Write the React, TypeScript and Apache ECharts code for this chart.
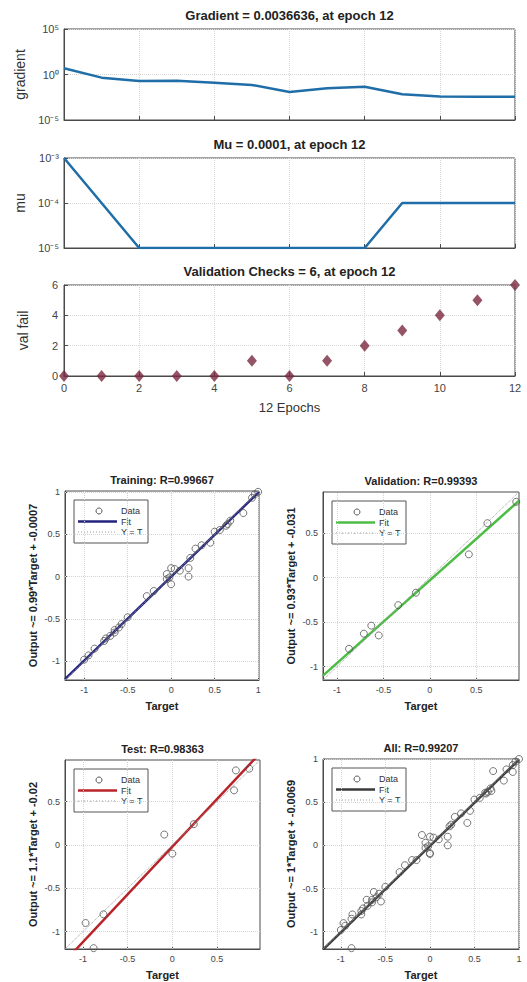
import React, { useEffect, useRef } from "react";
import * as echarts from "echarts";

// ---------- data ----------
const epochs = [0, 1, 2, 3, 4, 5, 6, 7, 8, 9, 10, 11, 12];
const gradientValues = [4.8, 0.45, 0.19, 0.21, 0.126, 0.071, 0.012, 0.03, 0.046, 0.0066, 0.0038, 0.0036, 0.0036636];
const muValues = [1e-3, 1e-4, 1e-5, 1e-5, 1e-5, 1e-5, 1e-5, 1e-5, 1e-5, 1e-4, 1e-4, 1e-4, 1e-4];
const valFailValues = [0, 0, 0, 0, 0, 1, 0, 1, 2, 3, 4, 5, 6];

const trainingPoints = [
  [1.0, 1.0], [0.96, 0.97], [0.93, 0.93], [0.83, 0.75], [0.68, 0.66], [0.65, 0.62], [0.63, 0.6],
  [0.56, 0.55], [0.5, 0.53], [0.45, 0.4], [0.35, 0.37], [0.28, 0.33], [0.22, 0.22], [0.2, 0.1],
  [0.2, 0.0], [0.1, 0.07], [0.04, 0.09], [0.0, 0.1], [0.0, -0.09], [-0.05, 0.03], [-0.05, -0.03],
  [-0.02, -0.01], [-0.2, -0.17], [-0.28, -0.23], [-0.5, -0.48], [-0.57, -0.56], [-0.6, -0.6],
  [-0.65, -0.63], [-0.7, -0.7], [-0.75, -0.73], [-0.77, -0.76], [-0.88, -0.85], [-0.95, -0.93],
  [-1.0, -0.98], [-0.65, -0.66],
];
const validationPoints = [
  [0.93, 0.85], [0.62, 0.61], [0.42, 0.26], [-0.15, -0.17], [-0.34, -0.31], [-0.63, -0.54],
  [-0.55, -0.65], [-0.71, -0.63], [-0.87, -0.8],
];
const testPoints = [
  [0.86, 0.88], [0.71, 0.86], [0.69, 0.63], [0.24, 0.24], [-0.09, 0.12], [0.0, -0.1],
  [-0.77, -0.8], [-0.97, -0.9], [-0.88, -1.19],
];
const allPoints = [...trainingPoints, ...validationPoints, ...testPoints];

const regressionTitles = ["Training: R=0.99667", "Validation: R=0.99393", "Test: R=0.98363", "All: R=0.99207"];
const regressionYLabels = [
  "Output ~= 0.99*Target + -0.0007",
  "Output ~= 0.93*Target + -0.031",
  "Output ~= 1.1*Target + -0.02",
  "Output ~= 1*Target + -0.0069",
];
const fitSlopes = [0.99, 0.93, 1.1, 1.0];
const fitIntercepts = [-0.0007, -0.031, -0.02, -0.0069];
const regressionTickValues = [-1, -0.5, 0, 0.5, 1];
const legendLabels = ["Data", "Fit", "Y = T"];

// ---------- layout / style ----------
const FONT = "'Liberation Sans', Arial, sans-serif";
const regPanels = [
  { left: 65, top: 491, width: 194, height: 189, min: -1.22, max: 1.01, color: "#23237f", points: trainingPoints },
  { left: 323, top: 492, width: 196, height: 188, min: -1.15, max: 0.96, color: "#4cbc44", points: validationPoints },
  { left: 65, top: 760, width: 195, height: 189, min: -1.2, max: 0.98, color: "#b8242a", points: testPoints },
  { left: 323, top: 759, width: 196, height: 190, min: -1.2, max: 1.0, color: "#3a3a3a", points: allPoints },
];
const topPanels = [
  { left: 64, top: 29, width: 451, height: 91 },
  { left: 64, top: 158, width: 451, height: 90 },
  { left: 64, top: 285, width: 451, height: 91 },
];
const topTitles = ["Gradient = 0.0036636, at epoch 12", "Mu = 0.0001, at epoch 12", "Validation Checks = 6, at epoch 12"];

const SUP: Record<string, string> = { "-": "⁻", "0": "⁰", "1": "¹", "2": "²", "3": "³", "4": "⁴", "5": "⁵", "6": "⁶", "7": "⁷", "8": "⁸", "9": "⁹" };
const pow10Label = (v: number) => {
  const e = Math.round(Math.log10(v));
  return "10" + String(e).split("").map((c) => SUP[c] || c).join("");
};

const axisColor = "#4a4a4a";
const labelColor = "#444";

function buildOption() {
  const grids: any[] = [];
  const xAxes: any[] = [];
  const yAxes: any[] = [];
  const series: any[] = [];
  const graphics: any[] = [];

  // top three panels
  topPanels.forEach((p, i) => {
    grids.push({ ...p, show: true, borderColor: axisColor, borderWidth: 1, backgroundColor: "#fff" });
    xAxes.push({
      type: "value", gridIndex: i, min: 0, max: 12, interval: 2,
      axisLine: { show: true, onZero: false, lineStyle: { color: axisColor } },
      axisTick: { show: true, inside: true, length: 4, lineStyle: { color: axisColor } },
      axisLabel: { show: i === 2, fontSize: 11, color: labelColor, fontFamily: FONT, margin: 6 },
      splitLine: { show: true, lineStyle: { type: "dotted", color: "#d6d6d6" } },
      name: i === 2 ? "12 Epochs" : "",
      nameLocation: "middle", nameGap: 25,
      nameTextStyle: { fontSize: 13, color: "#333", fontFamily: FONT },
    });
    graphics.push({
      type: "text", x: p.left + p.width / 2, y: p.top - 14,
      style: { text: topTitles[i], textAlign: "center", textVerticalAlign: "middle", font: `bold 13px ${FONT}`, fill: "#222" },
    });
  });
  yAxes.push({
    type: "log", logBase: 10, gridIndex: 0, min: 1e-5, max: 1e5, interval: 5,
    axisLine: { show: true, onZero: false, lineStyle: { color: axisColor } },
    axisTick: { show: true, inside: true, length: 4, lineStyle: { color: axisColor } },
    axisLabel: { formatter: pow10Label, fontSize: 11, color: labelColor, fontFamily: FONT, margin: 5 },
    splitLine: { show: true, lineStyle: { type: "dotted", color: "#d6d6d6" } },
    name: "gradient", nameLocation: "middle", nameGap: 34,
    nameTextStyle: { fontSize: 14, color: "#333", fontFamily: FONT },
  });
  yAxes.push({
    type: "log", logBase: 10, gridIndex: 1, min: 1e-5, max: 1e-3, interval: 1,
    axisLine: { show: true, onZero: false, lineStyle: { color: axisColor } },
    axisTick: { show: true, inside: true, length: 4, lineStyle: { color: axisColor } },
    axisLabel: { formatter: pow10Label, fontSize: 11, color: labelColor, fontFamily: FONT, margin: 5 },
    splitLine: { show: true, lineStyle: { type: "dotted", color: "#d6d6d6" } },
    name: "mu", nameLocation: "middle", nameGap: 34,
    nameTextStyle: { fontSize: 14, color: "#333", fontFamily: FONT },
  });
  yAxes.push({
    type: "value", gridIndex: 2, min: 0, max: 6, interval: 2,
    axisLine: { show: true, onZero: false, lineStyle: { color: axisColor } },
    axisTick: { show: true, inside: true, length: 4, lineStyle: { color: axisColor } },
    axisLabel: { fontSize: 11, color: labelColor, fontFamily: FONT, margin: 6 },
    splitLine: { show: true, lineStyle: { type: "dotted", color: "#d6d6d6" } },
    name: "val fail", nameLocation: "middle", nameGap: 34,
    nameTextStyle: { fontSize: 14, color: "#333", fontFamily: FONT },
  });

  series.push({
    type: "line", xAxisIndex: 0, yAxisIndex: 0, showSymbol: false,
    data: epochs.map((e, i) => [e, gradientValues[i]]),
    lineStyle: { color: "#1f6ea8", width: 2.5 },
  });
  series.push({
    type: "line", xAxisIndex: 1, yAxisIndex: 1, showSymbol: false,
    data: epochs.map((e, i) => [e, muValues[i]]),
    lineStyle: { color: "#1f6ea8", width: 2.5 },
  });
  series.push({
    type: "scatter", xAxisIndex: 2, yAxisIndex: 2, clip: false,
    symbol: "diamond", symbolSize: [10, 12],
    data: epochs.map((e, i) => [e, valFailValues[i]]),
    itemStyle: { color: "#7a2840" },
  });

  // regression panels
  regPanels.forEach((p, k) => {
    const gi = 3 + k;
    grids.push({ left: p.left, top: p.top, width: p.width, height: p.height, show: true, borderColor: axisColor, borderWidth: 1 });
    const ticks = regressionTickValues.filter((v) => v >= p.min - 1e-9 && v <= p.max + 1e-9);
    const common = {
      type: "value", gridIndex: gi, min: p.min, max: p.max,
      axisLine: { show: true, onZero: false, lineStyle: { color: axisColor } },
      axisTick: { show: true, inside: true, length: 3, customValues: ticks, lineStyle: { color: axisColor } },
      axisLabel: { customValues: ticks, fontSize: 9, color: labelColor, fontFamily: FONT, formatter: (v: number) => String(v) },
      splitLine: { show: false },
      nameLocation: "middle",
      nameTextStyle: { fontSize: 11, fontWeight: "bold", color: "#222", fontFamily: FONT },
    };
    xAxes.push({ ...common, name: "Target", nameGap: 20, axisLabel: { ...common.axisLabel, margin: 5 } });
    yAxes.push({ ...common, name: regressionYLabels[k], nameGap: 27, axisLabel: { ...common.axisLabel, margin: 5 } });

    const fx = [p.min, p.max];
    series.push({
      type: "line", xAxisIndex: gi, yAxisIndex: gi, showSymbol: false, clip: true, z: 3,
      data: fx.map((x) => [x, fitSlopes[k] * x + fitIntercepts[k]]),
      lineStyle: { color: p.color, width: 2.5 },
    });
    series.push({
      type: "line", xAxisIndex: gi, yAxisIndex: gi, showSymbol: false, clip: true, z: 4,
      data: fx.map((x) => [x, x]),
      lineStyle: { color: "#9a9a9a", width: 1, type: "dotted" },
      markLine: {
        silent: true, symbol: "none", label: { show: false }, z: 1,
        lineStyle: { color: "#d4d4d4", type: "dotted", width: 1 },
        data: [...ticks.map((v) => ({ xAxis: v })), ...ticks.map((v) => ({ yAxis: v }))],
      },
    });
    series.push({
      type: "scatter", xAxisIndex: gi, yAxisIndex: gi, z: 5,
      symbol: "circle", symbolSize: 7,
      data: p.points,
      itemStyle: { color: "rgba(0,0,0,0)", borderColor: "#555", borderWidth: 1 },
    });

    graphics.push({
      type: "text", x: p.left + p.width / 2, y: p.top - 11,
      style: { text: regressionTitles[k], textAlign: "center", textVerticalAlign: "middle", font: `bold 11px ${FONT}`, fill: "#222" },
    });
    // legend box
    const lx = p.left + 9;
    const ly = p.top + 9;
    graphics.push({
      type: "group", x: lx, y: ly, z: 20,
      children: [
        { type: "rect", shape: { x: 0, y: 0, width: 74, height: 43 }, style: { fill: "#fff", stroke: "#555", lineWidth: 1 } },
        { type: "circle", shape: { cx: 25, cy: 11, r: 3 }, style: { fill: "none", stroke: "#555", lineWidth: 1 } },
        { type: "text", x: 47, y: 11, style: { text: legendLabels[0], textVerticalAlign: "middle", font: `9px ${FONT}`, fill: "#333" } },
        { type: "line", shape: { x1: 4, y1: 21.5, x2: 43, y2: 21.5 }, style: { stroke: p.color, lineWidth: 2.5 } },
        { type: "text", x: 47, y: 21.5, style: { text: legendLabels[1], textVerticalAlign: "middle", font: `9px ${FONT}`, fill: "#333" } },
        { type: "line", shape: { x1: 4, y1: 32, x2: 43, y2: 32 }, style: { stroke: "#9a9a9a", lineWidth: 1, lineDash: [1, 2] } },
        { type: "text", x: 47, y: 32, style: { text: legendLabels[2], textVerticalAlign: "middle", font: `9px ${FONT}`, fill: "#333" } },
      ],
    });
  });

  return {
    animation: false,
    backgroundColor: "#fff",
    textStyle: { fontFamily: FONT },
    grid: grids,
    xAxis: xAxes,
    yAxis: yAxes,
    series,
    graphic: graphics,
  };
}

export default function App() {
  const ref = useRef<HTMLDivElement>(null);
  useEffect(() => {
    document.body.style.margin = "0";
    if (!ref.current) return;
    const chart = echarts.init(ref.current, undefined, { renderer: "svg" });
    chart.setOption(buildOption() as any);
    return () => chart.dispose();
  }, []);
  return <div ref={ref} style={{ width: 527, height: 982 }} />;
}
